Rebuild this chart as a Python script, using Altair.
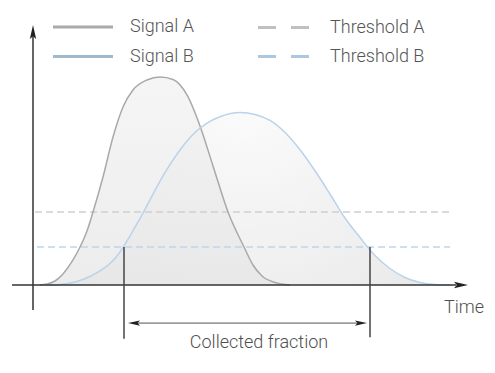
import altair as alt
import pandas as pd

# ---- data (time units / intensity in % of Signal A peak) ----
signal_a_t = [0.175, 0.35, 0.55, 0.75, 1.0, 1.175, 1.35, 1.5, 1.75, 2.0, 2.25, 2.5,
              2.85, 3.175, 3.5, 3.85, 4.175, 4.5, 4.875, 5.275, 5.5, 5.725, 6.05, 6.425]
signal_a_v = [0.0, 0.48, 1.93, 5.31, 12.08, 18.36, 26.09, 35.27, 52.17, 71.5, 86.0, 94.2,
              99.03, 100.48, 99.28, 91.79, 76.81, 57.49, 35.27, 18.36, 9.66, 4.35, 1.21, 0.0]

signal_b_t = [0.3, 0.675, 1.05, 1.425, 1.675, 1.925, 2.1, 2.26, 2.51, 2.76, 3.01, 3.34,
              3.675, 4.01, 4.34, 4.675, 5.175, 5.55, 5.925, 6.3, 6.675, 7.05, 7.425,
              7.8, 8.175, 8.55, 8.925, 9.3, 9.675, 10.05, 10.425]
signal_b_v = [0.0, 0.24, 1.45, 4.11, 6.76, 10.39, 14.01, 18.5, 26.57, 35.12, 44.3, 55.56,
              65.22, 72.95, 78.12, 81.3, 83.33, 82.37, 79.47, 73.67, 65.34, 55.19, 43.96,
              32.37, 22.95, 14.25, 7.97, 3.62, 1.21, 0.24, 0.0]

threshold_names = ["Threshold A", "Threshold B"]
threshold_values = [35.3, 18.4]
threshold_start = [0.05, 0.1]
threshold_end = [10.475, 10.425]

collect_start, collect_end = 2.275, 8.425
collect_low = -26.0
arrow_level = -18.4
arrow_start, arrow_end = 2.375, 8.35

x_axis_start, x_axis_tip = -0.525, 10.875
y_axis_start, y_axis_tip = -12.1, 125.6

signal_names = ["Signal A", "Signal B"]
signal_legend_colors = ["#aaaaaa", "#9fb9d1"]
threshold_legend_colors = ["#c0c0c0", "#adc7df"]

time_label = "Time"
fraction_label = "Collected fraction"

# ---- scales ----
xs = alt.Scale(domain=[-0.625, 11.35], nice=False, zero=False)
ys = alt.Scale(domain=[-38.65, 133.8], nice=False, zero=False)
X = lambda f: alt.X(f, type="quantitative", scale=xs, axis=None)
Y = lambda f: alt.Y(f, type="quantitative", scale=ys, axis=None)

sa = pd.DataFrame({"t": signal_a_t, "v": signal_a_v})
sb = pd.DataFrame({"t": signal_b_t, "v": signal_b_v})

fill_b = alt.Gradient(
    gradient="radial", x1=0.5, y1=0.25, r1=0.0, x2=0.5, y2=0.25, r2=0.75,
    stops=[alt.GradientStop(color="#fbfbfb", offset=0),
           alt.GradientStop(color="#e4e4e4", offset=1)])
fill_a = alt.Gradient(
    gradient="linear", x1=0, y1=0, x2=0, y2=1,
    stops=[alt.GradientStop(color="#f2f2f2", offset=0),
           alt.GradientStop(color="#e6e6e6", offset=1)])

area_b = alt.Chart(sb).mark_area(interpolate="monotone", color=fill_b, opacity=0.9).encode(
    x=X("t"), y=Y("v"), y2=alt.datum(0))
area_a = alt.Chart(sa).mark_area(interpolate="monotone", color=fill_a, opacity=0.75).encode(
    x=X("t"), y=Y("v"), y2=alt.datum(0))

thr = pd.DataFrame({"name": threshold_names, "v": threshold_values,
                    "t0": threshold_start, "t1": threshold_end})
thr_lines = alt.Chart(thr).mark_rule(strokeWidth=1.5, strokeDash=[7, 4]).encode(
    x=X("t0"), x2="t1", y=Y("v"),
    color=alt.Color("name:N", scale=alt.Scale(domain=threshold_names,
                                              range=["#cfcfcf", "#bcd6ef"]), legend=None))

line_a = alt.Chart(sa).mark_line(interpolate="monotone", color="#a9a9a9", strokeWidth=1.5).encode(
    x=X("t"), y=Y("v"))
line_b = alt.Chart(sb).mark_line(interpolate="monotone", color="#bad3ec", strokeWidth=1.5).encode(
    x=X("t"), y=Y("v"))

# axes lines
axes_df = pd.DataFrame({"t0": [x_axis_start, 0.0], "t1": [x_axis_tip - 0.3, 0.0],
                        "v0": [0.0, y_axis_start], "v1": [0.0, y_axis_tip - 5]})
axes = alt.Chart(axes_df).mark_rule(color="#333333", strokeWidth=1.5).encode(
    x=X("t0"), x2="t1", y=Y("v0"), y2="v1")

# collected fraction markers
coll_df = pd.DataFrame({"t": [collect_start, collect_end],
                        "v0": [threshold_values[1], threshold_values[1]],
                        "v1": [collect_low, collect_low + 0.8]})
coll = alt.Chart(coll_df).mark_rule(color="#444444", strokeWidth=1.5).encode(
    x=X("t"), y=Y("v0"), y2="v1")

arr_df = pd.DataFrame({"t0": [arrow_start + 0.2], "t1": [arrow_end - 0.2], "v": [arrow_level]})
arr = alt.Chart(arr_df).mark_rule(color="#555555", strokeWidth=1).encode(
    x=X("t0"), x2="t1", y=Y("v"))

heads_df = pd.DataFrame({
    "t": [x_axis_tip, 0.0, arrow_start, arrow_end],
    "v": [0.0, y_axis_tip, arrow_level, arrow_level],
    "dir": ["right", "up", "left", "right"],
    "sz": ["big", "big", "small", "small"]})
heads = alt.Chart(heads_df).mark_point(filled=True, opacity=1, color="#222222", strokeWidth=0).encode(
    x=X("t"), y=Y("v"),
    shape=alt.Shape("dir:N", scale=alt.Scale(
        domain=["right", "up", "left"],
        range=["M0,0L-2,-0.45L-1.6,0L-2,0.45Z",
               "M0,0L-0.45,2L0,1.6L0.45,2Z",
               "M0,0L2,-0.45L1.6,0L2,0.45Z"]), legend=None),
    size=alt.Size("sz:N", scale=alt.Scale(domain=["big", "small"], range=[196, 144]), legend=None))

text_df = pd.DataFrame({"t": [10.775, 5.65], "v": [-11.1, -28.0],
                        "label": [time_label, fraction_label]})
texts = alt.Chart(text_df).mark_text(font="Roboto", fontSize=18, color="#505050",
                                     fontWeight=300, align="center", baseline="middle").encode(
    x=X("t"), y=Y("v"), text="label:N")

# legends (driven by scales; single-point lines draw nothing)
common = dict(title=None, orient="none", symbolType="stroke", symbolSize=3600,
              symbolStrokeWidth=3, clipHeight=16, padding=0,
              labelFont="Roboto", labelFontSize=18, labelFontWeight=300, labelColor="#555555")

leg_sig_df = pd.DataFrame({"t": [0.0, 0.0], "v": [0.0, 0.0], "series": signal_names})
leg_sig = alt.Chart(leg_sig_df).mark_line(strokeWidth=3).encode(
    x=X("t"), y=Y("v"),
    color=alt.Color("series:N", scale=alt.Scale(domain=signal_names, range=signal_legend_colors),
                    legend=alt.Legend(legendX=43.5, legendY=11, rowPadding=11.5,
                                      labelOffset=15.5, **common)))

leg_thr_df = pd.DataFrame({"t": [0.0, 0.0], "v": [0.0, 0.0], "series": threshold_names})
leg_thr = alt.Chart(leg_thr_df).mark_line(strokeWidth=3).encode(
    x=X("t"), y=Y("v"),
    color=alt.Color("series:N", scale=alt.Scale(domain=threshold_names, range=threshold_legend_colors),
                    legend=alt.Legend(legendX=248.5, legendY=11.5, rowPadding=11,
                                      labelOffset=10.5, symbolDash=[18, 15], **common)))

chart = alt.layer(area_b, area_a, thr_lines, line_a, line_b, axes, coll, arr, heads, texts,
                  leg_sig, leg_thr).properties(
    width=479, height=357, padding=0, autosize=alt.AutoSizeParams(type="none")
).configure_view(stroke=None).resolve_scale(color="independent")

chart.save("out.html", embed_options={"renderer": "svg", "actions": False})
